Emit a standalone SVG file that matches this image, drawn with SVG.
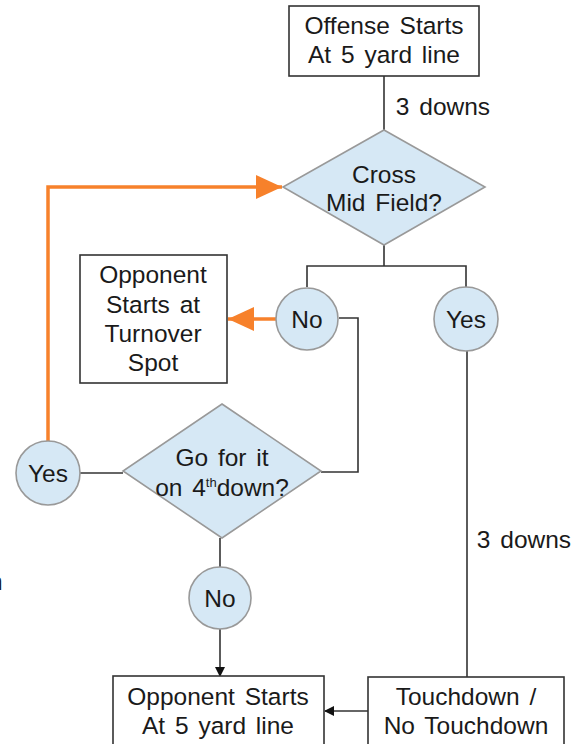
<svg xmlns="http://www.w3.org/2000/svg" width="585" height="744" viewBox="0 0 585 744">
<style>
text{font-family:"Liberation Sans",Arial,sans-serif;font-size:24.5px;fill:#1a1a1a;text-anchor:middle;word-spacing:3px}
.box{fill:#fff;stroke:#333;stroke-width:1.6}
.dec{fill:#d6e8f5;stroke:#999;stroke-width:1.6}
.ln{fill:none;stroke:#333;stroke-width:1.6}
.or{fill:none;stroke:#f7812b;stroke-width:3.5}
</style>
<defs>
<marker id="ab" markerWidth="10" markerHeight="10" refX="9" refY="5" orient="auto" markerUnits="userSpaceOnUse"><path d="M0,0 L10,5 L0,10 Z" fill="#111"/></marker>
<marker id="ao" markerWidth="26" markerHeight="24" refX="26" refY="12" orient="auto" markerUnits="userSpaceOnUse"><path d="M0,0 L26,12 L0,24 Z" fill="#f7812b"/></marker>
</defs>
<g id="connectors">
<path class="ln" d="M384,76 V130"/>
<path class="ln" d="M384,245 V266 M307,287 V266 H466 V287"/>
<path class="ln" d="M339,318 H358 V472 H321"/>
<path class="ln" d="M80,473 H123"/>
<path class="ln" d="M220,538 V567"/>
<path class="ln" d="M220,629 V676" marker-end="url(#ab)"/>
<path class="ln" d="M467,350 V677"/>
<path class="ln" d="M368,711 H325" marker-end="url(#ab)"/>
<path class="or" d="M276,319 H228" marker-end="url(#ao)"/>
<path class="or" d="M48,442 V187 H282" marker-end="url(#ao)"/>
<text x="443" y="115">3 downs</text>
<text x="524" y="548">3 downs</text>
</g>
<g id="start">
<rect class="box" x="289" y="6" width="190" height="70"/>
<text x="384" y="34">Offense Starts</text>
<text x="384" y="63">At 5 yard line</text>
</g>
<g id="cross">
<path class="dec" d="M384,130 L485,187 L384,245 L283,187 Z"/>
<text x="384" y="183">Cross</text>
<text x="384" y="211">Mid Field?</text>
</g>
<g id="no1">
<circle class="dec" cx="307" cy="319" r="31"/>
<text x="307" y="328">No</text>
</g>
<g id="yes1">
<circle class="dec" cx="466" cy="319" r="32"/>
<text x="466" y="328">Yes</text>
</g>
<g id="turnover">
<rect class="box" x="80" y="255" width="147" height="128"/>
<text x="153" y="283">Opponent</text>
<text x="153" y="313">Starts at</text>
<text x="153" y="342">Turnover</text>
<text x="153" y="371">Spot</text>
</g>
<g id="fourth">
<path class="dec" d="M222,404 L321,471 L222,538 L123,471 Z"/>
<text x="222" y="466">Go for it</text>
<text x="222" y="496">on 4<tspan font-size="13" dy="-9">th</tspan><tspan dy="9">down?</tspan></text>
</g>
<g id="yes2">
<circle class="dec" cx="48" cy="473" r="32"/>
<text x="48" y="482">Yes</text>
</g>
<g id="no2">
<circle class="dec" cx="220" cy="598" r="31"/>
<text x="220" y="607">No</text>
</g>
<g id="opp5">
<rect class="box" x="113" y="676" width="211" height="80"/>
<text x="218" y="705">Opponent Starts</text>
<text x="218" y="734">At 5 yard line</text>
</g>
<g id="td">
<rect class="box" x="368" y="677" width="196" height="80"/>
<text x="466" y="705">Touchdown /</text>
<text x="466" y="734">No Touchdown</text>
</g>
<text x="-11" y="590" style="text-anchor:start">n</text>
</svg>
